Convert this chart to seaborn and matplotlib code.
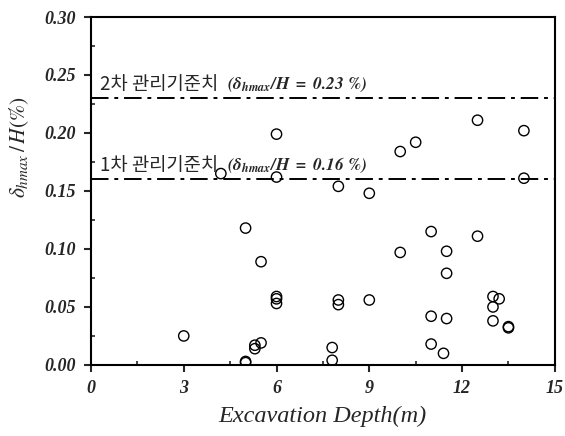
import matplotlib
matplotlib.use("Agg")
import matplotlib.pyplot as plt
import seaborn as sns
import pandas as pd
from matplotlib.ticker import MultipleLocator

depth = [3.0, 5.0, 5.0, 5.0, 5.3, 5.3, 5.5, 5.5, 6.0, 6.0, 6.0, 6.0, 6.0, 4.2,
         8.0, 7.8, 7.8, 8.0, 8.0, 9.0, 9.0, 10.0, 10.0, 10.5, 11.0, 11.0, 11.0,
         11.4, 11.5, 11.5, 11.5, 12.5, 12.5, 13.0, 13.2, 13.0, 13.0, 13.5, 13.5,
         14.0, 14.0]
ratio = [0.025, 0.118, 0.002, 0.003, 0.014, 0.017, 0.019, 0.089, 0.199, 0.162,
         0.059, 0.057, 0.053, 0.165, 0.154, 0.015, 0.004, 0.056, 0.052, 0.148,
         0.056, 0.184, 0.097, 0.192, 0.115, 0.042, 0.018, 0.010, 0.098, 0.079,
         0.040, 0.211, 0.111, 0.059, 0.057, 0.050, 0.038, 0.033, 0.032, 0.202,
         0.161]
limit_values = [0.23, 0.16]
limit_names = ["2차 관리기준치", "1차 관리기준치"]
limit_texts = [r"$\mathbfit{(\delta_{hmax}/H\ =\ 0.23\ \%)}$",
               r"$\mathbfit{(\delta_{hmax}/H\ =\ 0.16\ \%)}$"]
x_ticks = [0, 3, 6, 9, 12, 15]
y_ticks = [0.00, 0.05, 0.10, 0.15, 0.20, 0.25, 0.30]

sns.set_theme(style="ticks")
plt.rcParams['font.family'] = ['Liberation Serif', 'DejaVu Serif']
plt.rcParams['mathtext.fontset'] = 'stix'

df = pd.DataFrame({"depth": depth, "ratio": ratio})

fig = plt.figure(figsize=(5.65, 4.36), dpi=100)
ax = fig.add_axes([0.161, 0.163, 0.821, 0.798])

sns.scatterplot(data=df, x="depth", y="ratio", ax=ax, marker="o", s=55,
                facecolor="none", edgecolor="black", linewidth=1.0, zorder=3)

for v, name, t in zip(limit_values, limit_names, limit_texts):
    ax.axhline(v, color="black", lw=1.4, ls=(0, (9, 3, 2, 3)), zorder=2)
    ax.text(0.28, v + 0.003, name, family=['Noto Sans CJK KR', 'DejaVu Sans'],
            fontsize=13.5, ha="left", va="bottom")
    ax.text(4.4, v + 0.004, t, fontsize=12.5, ha="left", va="bottom")

ax.set_xlim(0, 15)
ax.set_ylim(0, 0.30)
ax.set_xticks(x_ticks)
ax.set_yticks(y_ticks)
ax.set_xticklabels([str(t) for t in x_ticks], fontsize=13, fontweight="bold", style="italic")
ax.set_yticklabels([f"{t:.2f}" for t in y_ticks], fontsize=13, fontweight="bold", style="italic")
ax.xaxis.set_minor_locator(MultipleLocator(1.5))
ax.yaxis.set_minor_locator(MultipleLocator(0.025))
ax.tick_params(which="major", direction="out", length=5, width=1.5, pad=6)
ax.tick_params(which="minor", direction="in", length=3, width=1.2)
for s in ax.spines.values():
    s.set_linewidth(1.5)
    s.set_color("black")

ax.set_xlabel("Excavation Depth(m)", fontsize=17.5, style="italic", labelpad=6)
ax.set_ylabel(r"$\delta_{hmax}\,/\,H(\%)$", fontsize=15.5)
ax.yaxis.set_label_coords(-0.13, 0.626)

fig.savefig("out.png", dpi=100)
